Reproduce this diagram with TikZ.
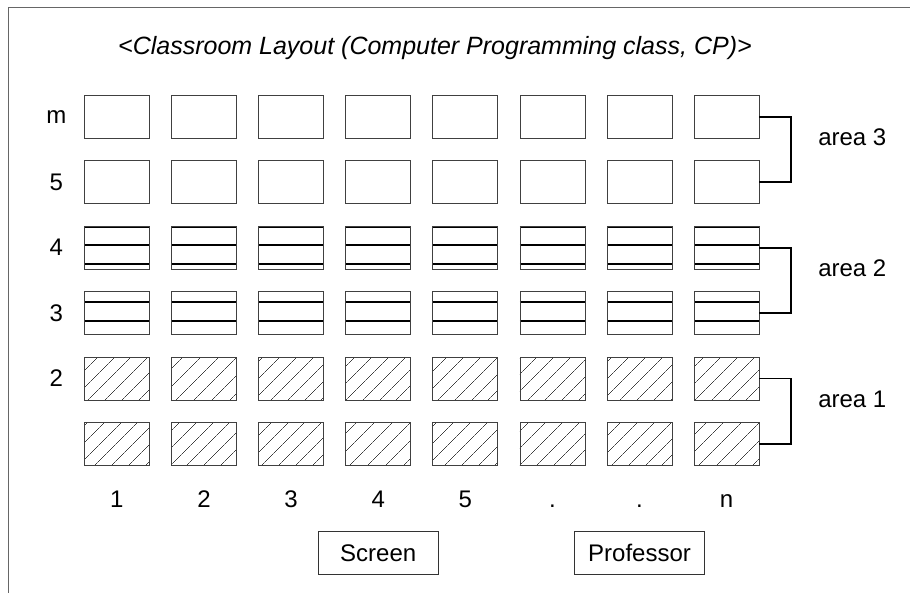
\documentclass[tikz,border=0pt]{standalone}
\usepackage{fontspec}
\setmainfont{Liberation Sans}
\usetikzlibrary{matrix,positioning,calc,patterns.meta}
\tikzstyle{desk} = [rectangle, draw=black!75, line width=.8pt, minimum width=65pt, minimum height=43pt, inner sep=0pt, outer sep=0pt]
\tikzstyle{hatched} = [desk, pattern={Lines[angle=45,distance=13pt,line width=.7pt]}, pattern color=black!75]
\newcommand{\deskline}[1]{\draw[black, line width=2.2pt] ([yshift=-#1]path picture bounding box.north west) -- ([yshift=-#1]path picture bounding box.north east);}
\tikzstyle{stripedA} = [desk, path picture={\deskline{.8pt}\deskline{19pt}\deskline{38pt}}]
\tikzstyle{stripedB} = [desk, path picture={\deskline{10.6pt}\deskline{29.6pt}}]
\tikzstyle{bracket} = [line width=1.8pt, draw=black]
\tikzstyle{collabel} = [inner sep=0pt, text height=17pt, text depth=0pt]
\tikzstyle{infobox} = [rectangle, draw=black!80, line width=.8pt, minimum height=43pt, inner sep=0pt]

\begin{document}
\begin{tikzpicture}[x=1pt, y=-1pt, font=\fontsize{24}{28}\selectfont]%
			\useasboundingbox (0,0) rectangle (910,592);
			\draw[black!60, line width=1.3pt] (8.5,600) |- (915,7.5);
			\node (title) at (435,48) {\fontsize{25}{30}\selectfont\itshape <Classroom Layout (Computer Programming class, CP)>};
			\matrix (mat) at (84,95) [matrix of nodes, ampersand replacement=\&, nodes in empty cells,
				anchor=north west, inner sep=0pt, outer sep=0pt,
				column sep={21.3pt}, row sep={21.6pt},
				row 1/.style={nodes=desk}, row 2/.style={nodes=desk},
				row 3/.style={nodes=stripedA}, row 4/.style={nodes=stripedB},
				row 5/.style={nodes=hatched}, row 6/.style={nodes=hatched}] {
				\& \& \& \& \& \& \& \\
				\& \& \& \& \& \& \& \\
				\& \& \& \& \& \& \& \\
				\& \& \& \& \& \& \& \\
				\& \& \& \& \& \& \& \\
				\& \& \& \& \& \& \& \\
			};
			\foreach \t/\r in {m/1,5/2,4/3,3/4,2/5}
				\node (row\r) at ([xshift=-28pt]mat-\r-1.west) {\t};
			\foreach \t [count=\c] in {1,2,3,4,5,.,.,n}
				\node (col\c) [collabel, below=24.4pt of mat-6-\c] {\t};
			% areas on the right
			\foreach \a/\r/\s in {3/1/2, 2/3/4, 1/5/6} {
				\draw[bracket] (mat-\r-8.east) -- ++(32,0) |- (mat-\s-8.east);
				\node (area\a) [anchor=base west, inner sep=0pt] at ($(mat-\r-8.east)!.5!(mat-\s-8.east)+(59,-4)$) {area \a};
			}
			\node (screen) [infobox, minimum width=120pt, below=24pt of col4] {Screen};
			\node (prof) [infobox, minimum width=130pt, below=24pt of col7] {Professor};
		\end{tikzpicture}
\end{document}
